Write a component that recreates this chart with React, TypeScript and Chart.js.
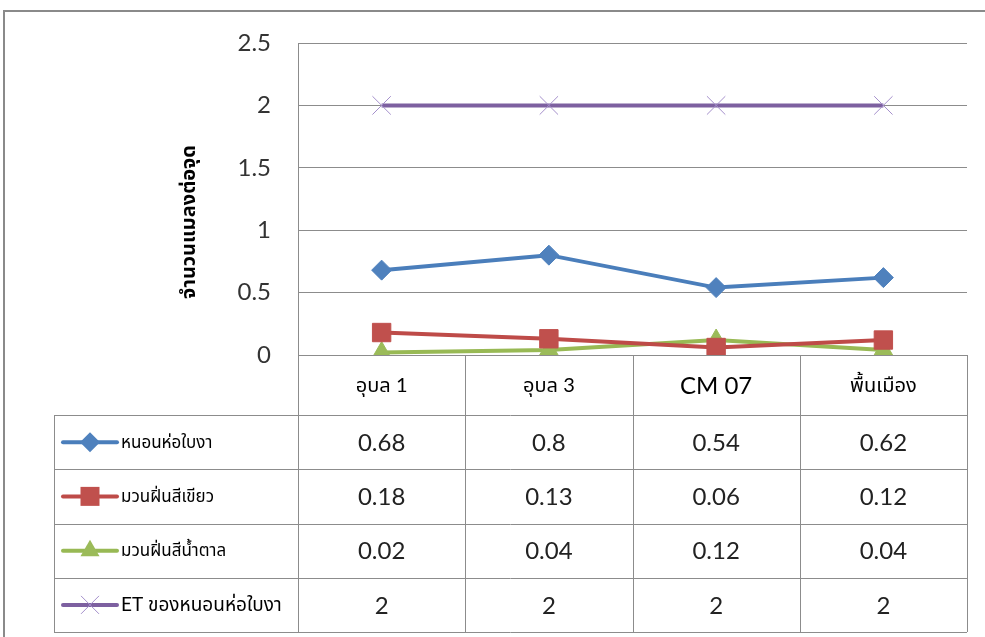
import React, { useEffect, useRef } from 'react';
import { Chart, registerables } from 'chart.js';

Chart.register(...registerables);

const categories = ['อุบล 1', 'อุบล 3', 'CM 07', 'พื้นเมือง'];
const seriesNames = ['หนอนห่อใบงา', 'มวนฝิ่นสีเขียว', 'มวนฝิ่นสีน้ำตาล', 'ET ของหนอนห่อใบงา'];
const leafRoller = [0.68, 0.8, 0.54, 0.62];
const greenBug = [0.18, 0.13, 0.06, 0.12];
const brownBug = [0.02, 0.04, 0.12, 0.04];
const etLevel = [2, 2, 2, 2];
const yTitle = 'จำนวนแมลงต่อจุด';
const yMin = 0;
const yMax = 2.5;
const yStep = 0.5;

const FONT = 'Lato, "Noto Sans Thai", "Noto Sans", "DejaVu Sans", sans-serif';
const GRID = '#8c8c8c';

const lineColors = ['#4A7EBB', '#BE4B48', '#98B954', '#7D60A0'];
const markerColors = ['#4F81BD', '#C0504D', '#9BBB59', '#A48FCB'];
const allSeries = [leafRoller, greenBug, brownBug, etLevel];

const hasThai = (s: string) => /[\u0E00-\u0E7F]/.test(s);

function drawMarker(ctx: CanvasRenderingContext2D, kind: number, x: number, y: number) {
  ctx.save();
  ctx.fillStyle = markerColors[kind];
  ctx.strokeStyle = markerColors[kind];
  ctx.beginPath();
  if (kind === 0) {
    const r = 10;
    ctx.moveTo(x, y - r); ctx.lineTo(x + r, y); ctx.lineTo(x, y + r); ctx.lineTo(x - r, y); ctx.closePath(); ctx.fill();
  } else if (kind === 1) {
    const s = 9.5;
    ctx.rect(x - s, y - s, 2 * s, 2 * s); ctx.fill();
  } else if (kind === 2) {
    const r = 11;
    ctx.moveTo(x, y - r); ctx.lineTo(x + r * 0.866, y + r * 0.5); ctx.lineTo(x - r * 0.866, y + r * 0.5); ctx.closePath(); ctx.fill();
  } else {
    const s = 9;
    ctx.lineWidth = 1;
    ctx.moveTo(x - s, y - s); ctx.lineTo(x + s, y + s); ctx.moveTo(x + s, y - s); ctx.lineTo(x - s, y + s); ctx.stroke();
  }
  ctx.restore();
}

const tablePlugin = {
  id: 'tablePlugin',
  afterDraw(chart: any) {
    const ctx: CanvasRenderingContext2D = chart.ctx;
    const area = chart.chartArea;
    const xs = chart.scales.x;
    const n = categories.length;
    const colW = area.width / n;
    const tableLeft = 54;
    const catRowBottom = area.bottom + 60;
    const tableBottom = 632;
    const rowH = (tableBottom - catRowBottom) / allSeries.length;

    ctx.save();
    // outer frame
    ctx.strokeStyle = '#8a8a8a';
    ctx.lineWidth = 2;
    ctx.beginPath();
    ctx.moveTo(4, 637); ctx.lineTo(4, 11); ctx.lineTo(985, 11);
    ctx.stroke();

    // y title
    ctx.save();
    ctx.translate(189, 222);
    ctx.rotate(-Math.PI / 2);
    ctx.fillStyle = '#000';
    ctx.font = 'bold 20px ' + FONT;
    ctx.textAlign = 'center';
    ctx.textBaseline = 'middle';
    ctx.fillText(yTitle, 0, 0);
    ctx.restore();

    // table lines
    ctx.strokeStyle = GRID;
    ctx.lineWidth = 1;
    ctx.beginPath();
    for (let i = 0; i <= n; i++) {
      const x = Math.round(area.left + i * colW) + 0.5;
      ctx.moveTo(x, area.bottom); ctx.lineTo(x, tableBottom);
    }
    ctx.moveTo(tableLeft + 0.5, catRowBottom); ctx.lineTo(tableLeft + 0.5, tableBottom);
    for (let r = 0; r <= allSeries.length; r++) {
      const y = Math.round(catRowBottom + r * rowH) + 0.5;
      ctx.moveTo(tableLeft, y); ctx.lineTo(area.right, y);
    }
    ctx.stroke();

    // categories
    ctx.fillStyle = '#000';
    ctx.textAlign = 'center';
    ctx.textBaseline = 'middle';
    categories.forEach((c, i) => {
      ctx.font = (hasThai(c) ? '20px ' : '24px ') + FONT;
      ctx.fillText(c, xs.getPixelForValue(i), (area.bottom + catRowBottom) / 2 + 1);
    });

    // rows
    allSeries.forEach((vals, r) => {
      const cy = catRowBottom + r * rowH + rowH / 2;
      ctx.save();
      ctx.strokeStyle = lineColors[r];
      ctx.lineWidth = 4;
      ctx.lineCap = 'round';
      ctx.beginPath();
      ctx.moveTo(63, cy); ctx.lineTo(117, cy);
      ctx.stroke();
      ctx.restore();
      drawMarker(ctx, r, 90, cy);
      ctx.fillStyle = '#000';
      ctx.textAlign = 'left';
      ctx.font = (r === 3 ? '19px ' : '17px ') + FONT;
      ctx.fillText(seriesNames[r], 121, cy);
      ctx.textAlign = 'center';
      ctx.font = '24px ' + FONT;
      ctx.fillStyle = '#222';
      vals.forEach((v, i) => {
        ctx.fillText(String(v), xs.getPixelForValue(i), cy + 1);
      });
    });
    ctx.restore();
  },
};

export default function App() {
  const ref = useRef<HTMLCanvasElement | null>(null);
  useEffect(() => {
    if (!ref.current) return;
    const styles = ['rectRot', 'rect', 'triangle', 'crossRot'];
    const radii = [10, 13, 11, 13];
    const chart = new Chart(ref.current, {
      type: 'line',
      data: {
        labels: categories,
        datasets: allSeries.map((vals, i) => ({
          label: seriesNames[i],
          data: vals,
          borderColor: lineColors[i],
          backgroundColor: markerColors[i],
          borderWidth: 4,
          pointStyle: styles[i] as any,
          pointRadius: radii[i],
          pointBackgroundColor: markerColors[i],
          pointBorderColor: markerColors[i],
          pointBorderWidth: 1,
          tension: 0,
          fill: false,
        })),
      },
      options: {
        responsive: false,
        animation: false,
        devicePixelRatio: 1,
        layout: { padding: { left: 0, top: 43, right: 18, bottom: 0 } },
        plugins: { legend: { display: false }, tooltip: { enabled: false }, title: { display: false } },
        scales: {
          x: {
            type: 'category',
            offset: true,
            grid: { display: false, drawTicks: false },
            border: { display: false },
            ticks: { display: false },
            afterFit: (s: any) => { s.height = 282; },
          },
          y: {
            min: yMin,
            max: yMax,
            grid: { color: GRID, drawTicks: false, lineWidth: 1 },
            border: { display: true, color: GRID, width: 1 },
            ticks: {
              stepSize: yStep,
              padding: 27,
              color: '#333',
              font: { family: FONT, size: 24 },
              callback: (v: any) => String(Number(v)),
            },
            afterFit: (s: any) => { s.width = 298; },
          },
        },
      },
      plugins: [tablePlugin],
    });
    return () => chart.destroy();
  }, []);
  return (
    <div style={{ position: 'absolute', left: 0, top: 0, width: 985, height: 637, background: '#fff' }}>
      <canvas ref={ref} width={985} height={637} />
    </div>
  );
}
